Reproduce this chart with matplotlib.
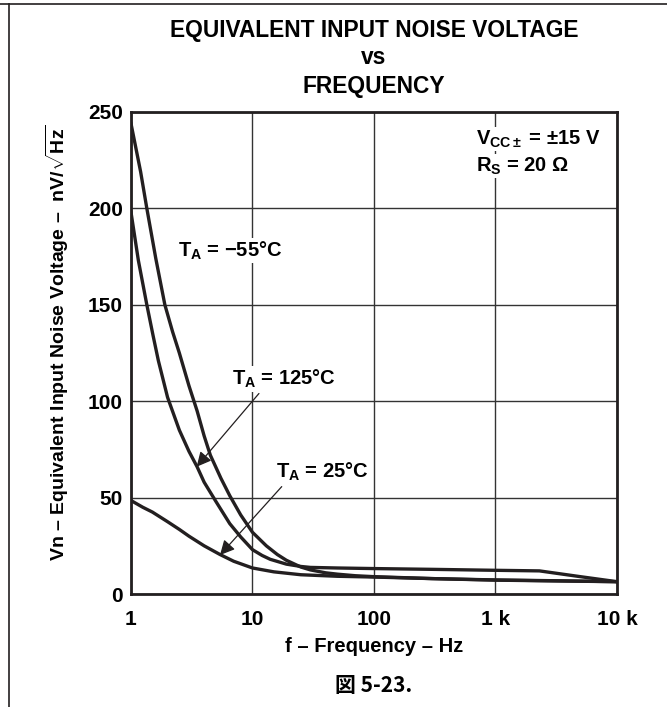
import matplotlib
matplotlib.use('Agg')
import matplotlib.pyplot as plt
from matplotlib.lines import Line2D

plt.rcParams['font.family'] = ['Liberation Sans', 'DejaVu Sans']
plt.rcParams['font.weight'] = 'bold'
plt.rcParams['axes.titleweight'] = 'bold'
plt.rcParams['axes.labelweight'] = 'bold'
plt.rcParams['mathtext.fontset'] = 'custom'
plt.rcParams['mathtext.rm'] = 'Liberation Sans:bold'
plt.rcParams['mathtext.bf'] = 'Liberation Sans:bold'
plt.rcParams['mathtext.it'] = 'Liberation Sans:bold'

# Curves (frequency in Hz, noise in nV/sqrt(Hz))
freq_m55 = [1, 1.2, 1.35, 1.6, 1.9, 2.2, 2.5, 3, 3.5, 4, 4.5, 5.5, 6.5, 8, 10, 13, 16, 19,
            25, 30, 40, 50, 70, 100, 300, 1000, 3000, 10000]
vn_m55 = [244, 219, 200, 174, 150, 136, 125, 108, 95, 82, 72, 60, 51, 41, 32, 25, 20.5, 17.5,
          14, 12.5, 11, 10.3, 9.5, 9.0, 8.0, 7.3, 6.9, 6.4]

freq_125 = [1, 1.15, 1.35, 1.52, 1.68, 2, 2.5, 3, 3.5, 4, 5, 6.5, 8, 10, 12, 14, 19, 25, 30,
            50, 100, 300, 1000, 2300, 5000, 10000]
vn_125 = [198, 173, 150, 134, 121, 102, 85, 74, 66, 58, 48, 36.5, 29.6, 23, 20, 18, 15.5, 14.3, 13.8,
          13.5, 13.2, 12.8, 12.3, 12.0, 9.0, 6.4]

freq_25 = [1, 1.25, 1.5, 2, 2.5, 3, 4, 5.4, 7, 10, 15, 25, 50, 100, 300, 1000, 3000, 10000]
vn_25 = [48.5, 45, 42.5, 37.5, 33.5, 30, 25, 20.5, 17, 13.5, 11.5, 10, 9.2, 8.8, 8, 7.2, 6.8, 6.4]

xticks = [1, 10, 100, 1000, 10000]
xtick_labels = ['1', '10', '100', '1 k', '10 k']
yticks = [0, 50, 100, 150, 200, 250]

title_lines = ['EQUIVALENT INPUT NOISE VOLTAGE', 'vs', 'FREQUENCY']

ink = '#231f20'

fig = plt.figure(figsize=(6.67, 7.07), dpi=100)
ax = fig.add_axes([0.1964, 0.1598, 0.7286, 0.6818])

for f, v in [(freq_m55, vn_m55), (freq_125, vn_125), (freq_25, vn_25)]:
    ax.plot(f, v, color=ink, lw=2.4, solid_joinstyle='round')

ax.set_xscale('log')
ax.set_xlim(1, 10000)
ax.set_ylim(0, 250)
ax.set_xticks(xticks)
ax.set_xticklabels(xtick_labels)
ax.minorticks_off()
ax.set_yticks(yticks)
ax.tick_params(length=0, labelsize=15)
ax.tick_params(axis='x', pad=11.5)
ax.tick_params(axis='y', pad=6)
ax.grid(True, color='#333333', lw=1.0)
for s in ax.spines.values():
    s.set_linewidth(2.0)
    s.set_color(ink)

ax.set_xlabel('f – Frequency – Hz', fontsize=14.5, labelpad=6)
ax.set_ylabel(r'Vn – Equivalent Input Noise Voltage –  nV/$\sqrt{\mathrm{Hz}}$',
              fontsize=14, labelpad=12)
ax.yaxis.label.set_y(0.52)

cx = 0.1964 + 0.7286 / 2
for txt, py in zip(title_lines, [30, 58, 86]):
    fig.text(cx, 1 - py / 707, txt, ha='center', va='center', fontsize=16.4, weight='bold')

# annotations
bb = dict(facecolor='white', edgecolor='none', pad=1)
ax.text(2.44, 178, r'T$_\mathrm{A}$ = −55°C', fontsize=14.5, va='center', bbox=bb)
ax.text(6.8, 111.5, r'T$_\mathrm{A}$ = 125°C', fontsize=14.5, va='center', bbox=bb)
ax.text(15.6, 63.5, r'T$_\mathrm{A}$ = 25°C', fontsize=14.5, va='center', bbox=bb)
ax.text(692, 236, r'V$_\mathrm{CC\pm}$ = ±15 V', fontsize=14.5, va='center', bbox=bb)
ax.text(692, 222, r'R$_\mathrm{S}$ = 20 Ω', fontsize=14.5, va='center', bbox=bb)

arrow = dict(arrowstyle='-|>', lw=0.9, color=ink, mutation_scale=22, shrinkA=0, shrinkB=0)
ax.annotate('', xy=(3.47, 66), xytext=(11.3, 104), arrowprops=arrow)
ax.annotate('', xy=(5.4, 20.2), xytext=(17.4, 55.7), arrowprops=arrow)

fig.text(cx, 1 - 686 / 707, '図 5-23.', ha='center', va='center', fontsize=15,
         family=['Noto Sans CJK JP', 'Liberation Sans'], weight='bold')

# page frame lines
fig.add_artist(Line2D([0, 1], [0.9945, 0.9945], transform=fig.transFigure, color=ink, lw=1.2))
fig.add_artist(Line2D([0.0128, 0.0128], [0, 0.9945], transform=fig.transFigure, color=ink, lw=1.2))

fig.savefig('out.png', dpi=100)
